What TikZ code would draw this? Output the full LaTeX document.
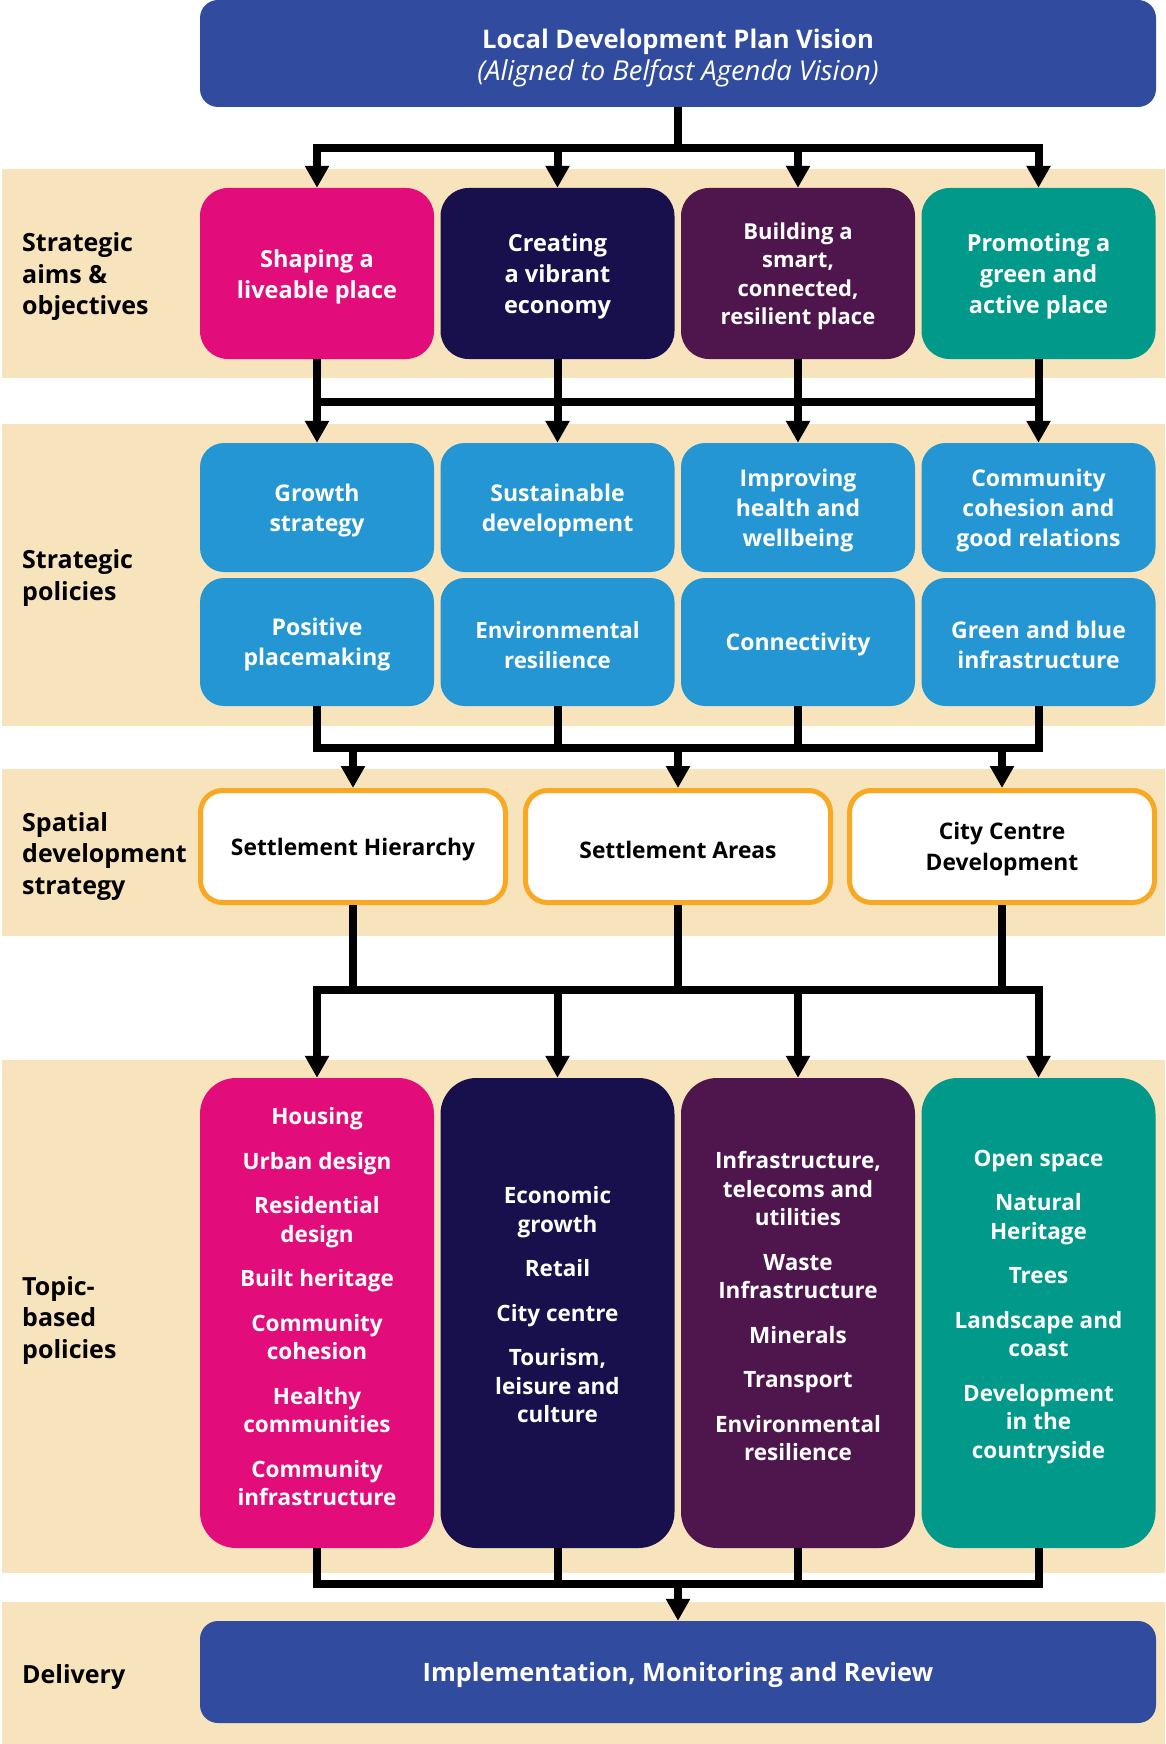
\documentclass[tikz,border=0pt]{standalone}
\usepackage{fontspec}
\setmainfont{Open Sans}
\usetikzlibrary{arrows.meta}
\definecolor{bandc}{HTML}{F8E4BC}
\definecolor{visc}{HTML}{314C9E}
\definecolor{pinkc}{HTML}{E20D7A}
\definecolor{navyc}{HTML}{180F4D}
\definecolor{purplec}{HTML}{4F164E}
\definecolor{tealc}{HTML}{00998A}
\definecolor{lbluec}{HTML}{2596D4}
\definecolor{orangec}{HTML}{F9A824}
\begin{document}
\begin{tikzpicture}[x=1pt,y=-1pt,
  base/.style={inner sep=0pt, align=center, text=white},
  visbox/.style={base, fill=visc, rounded corners=18pt, minimum width=956pt},
  aimbox/.style={base, rounded corners=28pt, minimum width=234pt, minimum height=171pt},
  polbox/.style={base, fill=lbluec, rounded corners=24pt, minimum width=234pt},
  sdbox/.style={base, draw=orangec, line width=5pt, fill=white, rounded corners=22pt, minimum width=305pt, minimum height=112pt},
  topbox/.style={base, rounded corners=36pt, minimum width=234pt, minimum height=470pt},
  txt/.style={base, yshift=-3pt},
  aimtxt/.style={txt, font=\fontsize{23.5}{31}\selectfont\bfseries},
  poltxt/.style={txt, font=\fontsize{23}{30}\selectfont\bfseries},
  sdtxt/.style={txt, text=black, font=\fontsize{22.8}{31}\selectfont\bfseries},
  toptxt/.style={base, font=\fontsize{22.5}{28.5}\selectfont\bfseries},
  lab/.style={inner sep=0pt, anchor=west, align=left, text=black, font=\fontsize{25}{31.5}\selectfont\bfseries},
  conn/.style={draw=black, line width=8pt},
  bus/.style={conn, line cap=rect},
  arr/.style={conn, -{Triangle[width=23pt,length=22pt]}},
]
\useasboundingbox (0,0) rectangle (1165,1744);
\fill[white] (0,0) rectangle (1165,1744);
% bands
\fill[bandc] (2,169) rectangle (1165,378);
\fill[bandc] (2,424) rectangle (1165,726);
\fill[bandc] (2,769) rectangle (1165,936);
\fill[bandc] (2,1060) rectangle (1165,1573);
\fill[bandc] (2,1602) rectangle (1165,1744);
% labels
\node[lab] (lab1) at (22,277) {Strategic\\aims \&\\objectives};
\node[lab] (lab2) at (22,578) {Strategic\\policies};
\node[lab] (lab3) at (22,856) {Spatial\\development\\strategy};
\node[lab] (lab4) at (22,1320) {Topic-\\based\\policies};
\node[lab] (lab5) at (22,1677) {Delivery};
% vision
\node[visbox, minimum height=107pt] (vision) at (678,53.5) {};
\node[base, font=\fontsize{25.6}{32}\selectfont] (visiont) at ([yshift=-4.5pt]vision.center) {{\bfseries Local Development Plan Vision}\\{\fontsize{27.4}{32}\selectfont\itshape (Aligned to Belfast Agenda Vision)}};
% row 1
\node[aimbox, fill=pinkc] (aim1) at (317,273.5) {};
\node[aimbox, fill=navyc] (aim2) at (557.5,273.5) {};
\node[aimbox, fill=purplec] (aim3) at (798,273.5) {};
\node[aimbox, fill=tealc] (aim4) at (1038.5,273.5) {};
\node[aimtxt] (aim1t) at (aim1.center) {Shaping a\\liveable place};
\node[aimtxt] (aim2t) at (aim2.center) {Creating\\a vibrant\\economy};
\node[aimtxt, font=\fontsize{22}{28.5}\selectfont\bfseries] (aim3t) at (aim3.center) {Building a\\smart,\\connected,\\resilient place};
\node[aimtxt] (aim4t) at (aim4.center) {Promoting a\\green and\\active place};
% row 2
\node[polbox, minimum height=129pt] (pol1) at (317,507.5) {};
\node[polbox, minimum height=129pt] (pol2) at (557.5,507.5) {};
\node[polbox, minimum height=129pt] (pol3) at (798,507.5) {};
\node[polbox, minimum height=129pt] (pol4) at (1038.5,507.5) {};
\node[polbox, minimum height=128pt] (pol5) at (317,642) {};
\node[polbox, minimum height=128pt] (pol6) at (557.5,642) {};
\node[polbox, minimum height=128pt] (pol7) at (798,642) {};
\node[polbox, minimum height=128pt] (pol8) at (1038.5,642) {};
\node[poltxt] (pol1t) at (pol1.center) {Growth\\strategy};
\node[poltxt] (pol2t) at (pol2.center) {Sustainable\\development};
\node[poltxt] (pol3t) at (pol3.center) {Improving\\health and\\wellbeing};
\node[poltxt] (pol4t) at (pol4.center) {Community\\cohesion and\\good relations};
\node[poltxt] (pol5t) at (pol5.center) {Positive\\placemaking};
\node[poltxt, font=\fontsize{22.3}{30}\selectfont\bfseries] (pol6t) at (pol6.center) {Environmental\\resilience};
\node[poltxt] (pol7t) at (pol7.center) {Connectivity};
\node[poltxt] (pol8t) at (pol8.center) {Green and blue\\infrastructure};
% spatial
\node[sdbox] (sd1) at (353,846.5) {};
\node[sdbox] (sd2) at (678,846.5) {};
\node[sdbox] (sd3) at (1002,846.5) {};
\node[sdtxt] (sd1t) at (sd1.center) {Settlement Hierarchy};
\node[sdtxt] (sd2t) at (sd2.center) {Settlement Areas};
\node[sdtxt] (sd3t) at (sd3.center) {City Centre\\Development};
% topic boxes
\node[topbox, fill=pinkc] (top1) at (317,1313) {};
\node[topbox, fill=navyc] (top2) at (557.5,1313) {};
\node[topbox, fill=purplec] (top3) at (798,1313) {};
\node[topbox, fill=tealc] (top4) at (1038.5,1313) {};
\node[toptxt] (t1) at (317,1307) {Housing\\[16pt]Urban design\\[16pt]Residential\\design\\[16pt]Built heritage\\[16pt]Community\\cohesion\\[16pt]Healthy\\communities\\[16pt]Community\\infrastructure};
\node[toptxt] (t2) at (557.5,1305) {Economic\\growth\\[16pt]Retail\\[16pt]City centre\\[16pt]Tourism,\\leisure and\\culture};
\node[toptxt] (t3) at (798,1306) {Infrastructure,\\telecoms and\\utilities\\[16pt]Waste\\Infrastructure\\[16pt]Minerals\\[16pt]Transport\\[16pt]Environmental\\resilience};
\node[toptxt] (t4) at (1038.5,1307) {Open space\\[16pt]Natural\\Heritage\\[16pt]Trees\\[16pt]Landscape and\\coast\\[16pt]Development\\in the\\countryside};
% delivery
\node[visbox, minimum height=102pt] (delivery) at (678,1672) {};
\node[txt, font=\fontsize{25.3}{32}\selectfont\bfseries] (deliveryt) at (delivery.center) {Implementation, Monitoring and Review};
% connectors
\coordinate (busA) at (0,148);
\coordinate (busB) at (0,402);
\coordinate (busC) at (0,748);
\coordinate (busD) at (0,990);
\coordinate (busE) at (0,1584);
\draw[conn] (vision.south) -- (vision.south |- busA);
\draw[bus] (aim1.north |- busA) -- (aim4.north |- busA);
\foreach \n in {aim1,aim2,aim3,aim4} \draw[arr] (\n.north |- busA) -- (\n.north);
\draw[bus] (aim1.south |- busB) -- (aim4.south |- busB);
\foreach \i in {1,...,4} \draw[arr] (aim\i.south) -- (pol\i.north);
\foreach \i in {5,...,8} \draw[conn] (pol\i.south) -- (pol\i.south |- busC);
\draw[bus] (pol5.south |- busC) -- (pol8.south |- busC);
\foreach \n in {sd1,sd2,sd3} \draw[arr] (\n.north |- busC) -- (\n.north);
\foreach \n in {sd1,sd2,sd3} \draw[conn] (\n.south) -- (\n.south |- busD);
\draw[bus] (top1.north |- busD) -- (top4.north |- busD);
\foreach \n in {top1,top2,top3,top4} \draw[arr] (\n.north |- busD) -- (\n.north);
\foreach \n in {top1,top2,top3,top4} \draw[conn] (\n.south) -- (\n.south |- busE);
\draw[bus] (top1.south |- busE) -- (top4.south |- busE);
\draw[arr] (delivery.north |- busE) -- (delivery.north);
\end{tikzpicture}
\end{document}
